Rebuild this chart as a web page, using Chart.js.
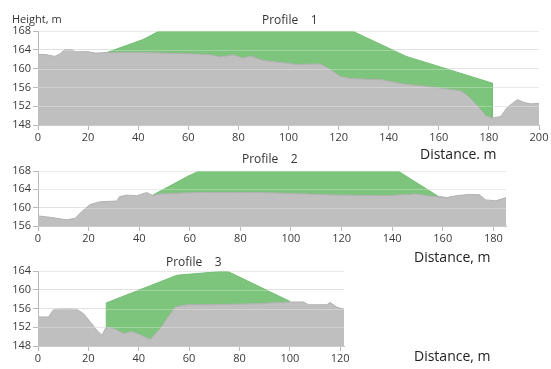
<!DOCTYPE html>
<html>
<head>
<meta charset="utf-8">
<script src="https://cdn.jsdelivr.net/npm/chart.js@4.4.1/dist/chart.umd.min.js"></script>
<style>
    html, body { margin: 0; padding: 0; background: #fff; }
    body { width: 551px; height: 369px; position: relative; overflow: hidden; font-family: "Open Sans", sans-serif; }
    .box { position: absolute; left: 0; width: 551px; }
    .lbl { position: absolute; white-space: pre; line-height: 1; }
    .title { font-size: 12px; color: #333; }
    .axis { font-size: 14px; color: #222; }
</style>
</head>
<body>
<div class="box" style="top:0;height:145px"><canvas id="profile1"></canvas></div>
<div class="box" style="top:150px;height:96px"><canvas id="profile2"></canvas></div>
<div class="box" style="top:250px;height:116px"><canvas id="profile3"></canvas></div>

<div class="lbl" style="left:12px;top:13px;font-size:11px;color:#333">Height, m</div>
<div class="lbl title" style="left:262px;top:14px">Profile    1</div>
<div class="lbl axis" style="left:420px;top:147px">Distance. m</div>
<div class="lbl title" style="left:242px;top:153px">Profile    2</div>
<div class="lbl axis" style="left:414px;top:250px">Distance, m</div>
<div class="lbl title" style="left:166px;top:256px">Profile    3</div>
<div class="lbl axis" style="left:414px;top:349px">Distance, m</div>

<script>
"use strict";

/* profile 1 */
var ground1X = [0, 3, 6.7, 9, 10.5, 13.5, 15, 20, 23, 27, 30, 43, 59, 68, 72.7, 78, 82, 84.7, 90, 94, 103, 112.7, 116.7, 120.7, 124.7, 132.7, 136.7, 146, 153.9, 156.7, 168.7, 171.4, 175.4, 178.7, 181.4, 184.7, 187.4, 191.4, 194, 196.7, 200];
var ground1Y = [163, 163, 162.6, 163.2, 164, 164, 163.6, 163.6, 163.3, 163.4, 163.4, 163.4, 163.15, 163, 162.5, 162.9, 162.2, 162.7, 161.7, 161.5, 160.9, 161, 159.8, 158.3, 157.9, 157.7, 157.7, 156.7, 156.3, 156.1, 155.3, 154.3, 152.1, 150, 149.5, 149.8, 151.8, 153.4, 152.8, 152.5, 152.6];
var design1X = [27.4, 42, 48.4, 125.4, 147, 181.4, 181.4];
var design1Y = [163.4, 166.2, 168, 168, 162.6, 156.9, 149.5];

/* profile 2 */
var ground2X = [0, 4.8, 11.4, 14.7, 17.4, 20.6, 24.6, 31.2, 32.2, 35.1, 39, 43, 45.6, 48, 64, 91.6, 118, 137.7, 149.5, 154.8, 161.3, 165.3, 170.5, 174.5, 177, 181, 185];
var ground2Y = [158.2, 157.9, 157.35, 157.7, 159.2, 160.7, 161.3, 161.45, 162.4, 162.75, 162.6, 163.3, 162.6, 163, 163.3, 163.25, 162.75, 162.6, 163, 162.55, 162.2, 162.6, 162.9, 162.8, 161.7, 161.5, 162.2];
var design2X = [45.3, 58.7, 63.7, 142.3, 158.7];
var design2Y = [162.7, 166.7, 168, 168, 162.3];

/* profile 3 */
var ground3X = [0, 4.2, 6.2, 11.5, 15.5, 18.1, 20.8, 23.4, 25.4, 26.7, 28, 30.7, 34, 37.3, 40.6, 44.6, 48.5, 51.2, 54.5, 59.1, 64.4, 86.9, 100.1, 105.4, 107.4, 114.7, 116, 118.6, 121.5];
var ground3Y = [154.2, 154.2, 155.8, 155.9, 155.8, 154.9, 153.1, 151.35, 150.3, 151.7, 152, 151.6, 150.65, 151.1, 150.4, 149.4, 151.7, 153.85, 156.3, 156.8, 156.8, 157, 157.4, 157.4, 156.8, 156.8, 157.3, 156.3, 155.8];
var design3X = [27.1, 27.1, 55.2, 75, 100.1];
var design3Y = [151.8, 157.2, 163.1, 164, 157.5];

/* axis ranges and tick labels */
var xTicks1 = [0, 20, 40, 60, 80, 100, 120, 140, 160, 180, 200];
var xTicks2 = [0, 20, 40, 60, 80, 100, 120, 140, 160, 180];
var xTicks3 = [0, 20, 40, 60, 80, 100, 120];
var yTicks1 = [148, 152, 156, 160, 164, 168];
var yTicks2 = [156, 160, 164, 168];
var yTicks3 = [148, 152, 156, 160, 164];

function pts(xs, ys) {
    return xs.map(function (x, i) { return { x: x, y: ys[i] }; });
}

/* faint grid lines showing through the grey ground, under the green */
var groundGrid = {
    id: 'groundGrid',
    afterDatasetDraw: function (chart, args) {
        if (args.index !== 0) return;
        var c = chart.ctx, a = chart.chartArea, ys = chart.scales.y;
        c.save();
        c.strokeStyle = 'rgba(255,255,255,0.28)';
        c.lineWidth = 1;
        ys.ticks.forEach(function (t) {
            var py = Math.round(ys.getPixelForValue(t.value)) + 0.5;
            c.beginPath();
            c.moveTo(a.left, py);
            c.lineTo(a.right, py);
            c.stroke();
        });
        c.restore();
    }
};

function makeProfile(id, gx, gy, dx, dy, xMax, xTicks, yTicks, pad) {
    var dStart = dx[0], dEnd = dx[dx.length - 1];
    var yMin = yTicks[0], yMax = yTicks[yTicks.length - 1];
    var ctx = document.getElementById(id).getContext('2d');
    return new Chart(ctx, {
        type: 'line',
        data: {
            datasets: [{
                /* ground, filled grey */
                label: 'ground',
                data: pts(gx, gy),
                borderColor: '#b2b2b2',
                borderWidth: 1,
                backgroundColor: '#bfbfbf',
                fill: 'start',
                pointRadius: 0,
                tension: 0
            }, {
                /* embankment, green between design line and ground */
                label: 'design',
                data: pts(dx, dy),
                borderColor: '#74bd74',
                borderWidth: 1,
                backgroundColor: '#7dc47d',
                fill: { target: 0, above: '#7dc47d', below: 'rgba(0,0,0,0)' },
                pointRadius: 0,
                tension: 0
            }, {
                /* dark ground edge under the embankment */
                label: 'edge',
                data: pts(gx, gy),
                borderWidth: 1,
                fill: false,
                pointRadius: 0,
                tension: 0,
                segment: {
                    borderColor: function (c) {
                        var x = c.p0.parsed.x;
                        return (x >= dStart - 0.5 && x < dEnd) ? '#5b7a5b' : 'rgba(0,0,0,0)';
                    }
                }
            }]
        },
        plugins: [groundGrid],
        options: {
            animation: false,
            responsive: true,
            maintainAspectRatio: false,
            layout: { padding: pad },
            plugins: {
                legend: { display: false },
                tooltip: { enabled: false }
            },
            scales: {
                x: {
                    type: 'linear',
                    min: 0,
                    max: xMax,
                    afterBuildTicks: function (s) {
                        s.ticks = xTicks.map(function (v) { return { value: v }; });
                    },
                    afterFit: function (s) { s.height = 20; },
                    grid: { display: true, drawOnChartArea: false, tickLength: 5, color: '#b8b8b8' },
                    border: { color: '#b8b8b8' },
                    ticks: { font: { family: 'Open Sans', size: 11 }, color: '#3a3a3a', padding: 1, maxRotation: 0 }
                },
                y: {
                    min: yMin,
                    max: yMax,
                    afterBuildTicks: function (s) {
                        var t = [];
                        for (var v = yMin; v <= yMax; v += 2) t.push({ value: v });
                        s.ticks = t;
                    },
                    afterFit: function (s) { s.width = 38; },
                    grid: { color: '#e2e2e2', tickLength: 5, tickColor: '#b8b8b8' },
                    border: { color: '#b8b8b8' },
                    ticks: {
                        font: { family: 'Open Sans', size: 11 },
                        color: '#3a3a3a',
                        padding: 2,
                        callback: function (v) { return yTicks.indexOf(v) >= 0 ? String(v) : ''; }
                    }
                }
            }
        }
    });
}

document.addEventListener("DOMContentLoaded", function () {
    makeProfile('profile1', ground1X, ground1Y, design1X, design1Y, 200, xTicks1, yTicks1, { top: 31, right: 12, bottom: 0, left: 0 });
    makeProfile('profile2', ground2X, ground2Y, design2X, design2Y, 185, xTicks2, yTicks2, { top: 21, right: 45, bottom: 0, left: 0 });
    makeProfile('profile3', ground3X, ground3Y, design3X, design3Y, 121.5, xTicks3, yTicks3, { top: 21, right: 207, bottom: 0, left: 0 });
});
</script>
</body>
</html>
